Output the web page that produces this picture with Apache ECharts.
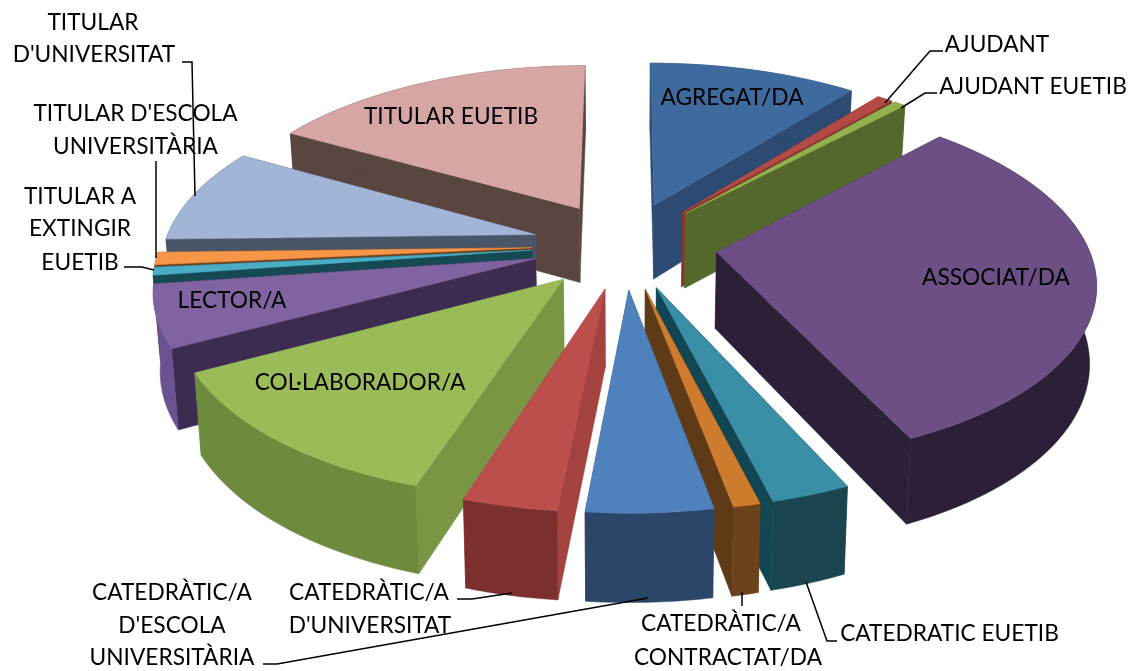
<!DOCTYPE html>
<html><head><meta charset="utf-8">
<style>html,body{margin:0;padding:0;background:#fff}#c{width:1133px;height:671px}</style>
<script src="https://cdn.jsdelivr.net/npm/echarts@6/dist/echarts.min.js"></script>
</head><body><div id="c"></div>
<script>
var categories = ["AGREGAT/DA","AJUDANT","AJUDANT EUETIB","ASSOCIAT/DA","CATEDRATIC EUETIB","CATEDRÀTIC/A CONTRACTAT/DA","CATEDRÀTIC/A D'ESCOLA UNIVERSITÀRIA","CATEDRÀTIC/A D'UNIVERSITAT","COL·LABORADOR/A","LECTOR/A","TITULAR A EXTINGIR EUETIB","TITULAR D'ESCOLA UNIVERSITÀRIA","TITULAR D'UNIVERSITAT","TITULAR EUETIB"];
var values = [38.5,2.9,2.2,111.9,10.3,3.5,16.3,12.2,44.2,20,2.5,4,31,60.5];
var topColors = ["#3f6a9e","#b34a45","#93b04f","#6b4f85","#3a8ea5","#cd7c2e","#4f81bd","#bc4f4c","#9bbb59","#8064a2","#4bacc6","#f79646","#a3b5d6","#d6a6a5"];
var sideColors = ["#2c4a72","#8a3531","#55682c","#2b2038","#124654","#5e3a17","#2c4669","#a3423f","#7a9644","#3d2c52","#154a55","#6e431c","#4a5568","#5a4640"];
var wallColors = ["#2c4a72","#7b2f2b","#55682c","#2b2038","#1a4450","#6b421b","#2c4669","#7b2f2e","#6e8a3d","#6a5390","#154a55","#6e431c","#4a5568","#5a4640"];
var paintOrder = [13,0,1,2,3,12,11,10,9,8,4,5,6,7];
var labelLines = [
 ["TITULAR",93,23],["D'UNIVERSITAT",94,55],["TITULAR D'ESCOLA",135.5,114],["UNIVERSITÀRIA",135.5,147],
 ["TITULAR A",80,197],["EXTINGIR",80,229],["EUETIB",80,263],
 ["AJUDANT",997,45],["AJUDANT EUETIB",1033,87],["ASSOCIAT/DA",996,278],["AGREGAT/DA",732,98],["TITULAR EUETIB",451,117],
 ["LECTOR/A",232,301],["COL·LABORADOR/A",360,383],
 ["CATEDRÀTIC/A",172,593],["D'ESCOLA",172,626],["UNIVERSITÀRIA",172,658],
 ["CATEDRÀTIC/A",369,593],["D'UNIVERSITAT",370,626],
 ["CATEDRÀTIC/A",721,624],["CONTRACTAT/DA",728,658],["CATEDRATIC EUETIB",949.5,634]];
var leaderLines = [
 [[182,62],[192,62],[195,196]],
 [[156,161],[156,258]],
 [[124,267],[142,267],[154,270]],
 [[943,51],[930,51],[885,103]],
 [[937,93],[925,93],[901,108]],
 [[457,599],[472,599],[512,593]],
 [[263,664],[277,664],[648,598]],
 [[742,592],[742,606]],
 [[806,582],[827,641],[837,641]]
];

var total = values.reduce(function(a,b){return a+b;},0);
var CX=624.5, CY=245, R=371, TILT=0.47, PERSP=0.15, EXPLODE=0.25, H=77, DEPTH=0.015;
function project(X,Y,bottom){
  var w=(1+PERSP*Y)*(bottom?1+DEPTH:1);
  return [CX+R*X/w, CY-R*TILT*Y/w+(bottom?H/w:0)];
}
var starts=[],acc=0;
values.forEach(function(v){starts.push(acc/total*2*Math.PI);acc+=v;});

function sliceShapes(i){
  var a0=starts[i], a1=a0+values[i]/total*2*Math.PI, mid=(a0+a1)/2;
  var ox=EXPLODE*Math.sin(mid), oy=EXPLODE*Math.cos(mid);
  var n=Math.max(2,Math.ceil((a1-a0)/0.03)), top=[], bot=[];
  for(var k=0;k<=n;k++){
    var a=a0+(a1-a0)*k/n, X=ox+Math.sin(a), Y=oy+Math.cos(a);
    top.push(project(X,Y,false)); bot.push(project(X,Y,true));
  }
  var apexT=project(ox,oy,false), apexB=project(ox,oy,true);
  return {
    top:[apexT].concat(top),
    cutA:[apexT,top[0],bot[0],apexB],
    cutB:[apexT,top[n],bot[n],apexB],
    wall:top.concat(bot.slice().reverse())
  };
}
function poly(points,color){
  return {type:'polygon',shape:{points:points},style:{fill:color,stroke:color,lineWidth:0.5}};
}
var seriesData = paintOrder.map(function(i){return {name:categories[i],value:[i,values[i]]};});

var graphics=[];
leaderLines.forEach(function(l){
  graphics.push({type:'polyline',z:10,shape:{points:l},style:{stroke:'#000',lineWidth:1.5,fill:null}});
});
labelLines.forEach(function(l){
  graphics.push({type:'text',z:11,x:l[1],y:l[2],style:{text:l[0],fill:'#000',font:'22.7px Lato',textAlign:'center',textVerticalAlign:'middle'}});
});

var chart=echarts.init(document.getElementById('c'),null,{renderer:'canvas'});
chart.setOption({
  animation:false,
  backgroundColor:'#fff',
  graphic:graphics,
  series:[{
    type:'custom',coordinateSystem:'none',data:seriesData,
    renderItem:function(params,api){
      var i=api.value(0), s=sliceShapes(i);
      return {type:'group',children:[
        poly(s.cutA,sideColors[i]),poly(s.cutB,sideColors[i]),
        poly(s.wall,wallColors[i]),poly(s.top,topColors[i])
      ]};
    }
  }]
});
</script></body></html>
